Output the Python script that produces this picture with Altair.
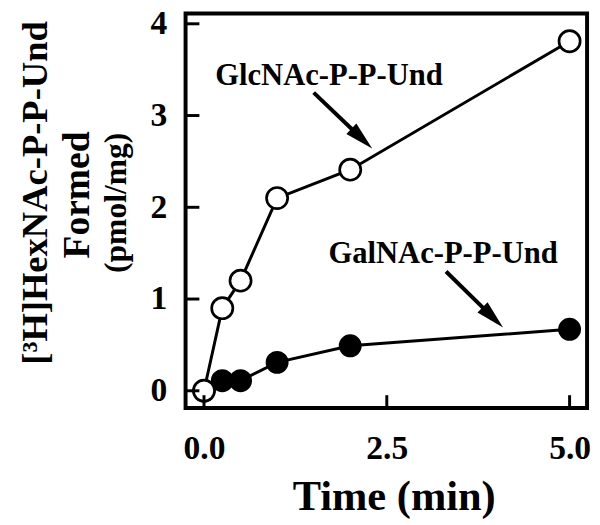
import math
import altair as alt
import pandas as pd

# ---- data ----
time_min = [0, 0.25, 0.5, 1, 2, 5]
glcnac = [0, 0.90, 1.20, 2.10, 2.41, 3.81]
galnac = [0, 0.11, 0.11, 0.31, 0.49, 0.67]

x_ticks = [0, 2.5, 5]
y_ticks = [0, 1, 2, 3, 4]

labels = ["GlcNAc-P-P-Und", "GalNAc-P-P-Und"]
label_x = [1.71, 3.27]
label_y = [3.33, 1.39]
arrow_x0 = [1.50, 3.31]
arrow_y0 = [3.25, 1.30]
arrow_x1 = [2.30, 4.09]
arrow_y1 = [2.64, 0.69]

y_title_lines = ["[³H]HexNAc-P-P-Und", "Formed", "(pmol/mg)"]
y_title_sizes = [37, 38, 32]
y_title_px = [-140, -98, -60]
y_title_py = [182, 184, 192]

# ---- layout ----
W, H = 407, 400
FONT = "Liberation Serif"
XD = [-0.252, 5.239]
YD = [-0.188, 4.113]
xs = alt.Scale(domain=XD, nice=False, zero=False)
ys = alt.Scale(domain=YD, nice=False, zero=False)

x_axis = alt.Axis(values=x_ticks, format=".1f", title="Time (min)", labelPadding=24,
                  titleFontSize=43, titleY=103, titleX=211, titleBaseline="alphabetic")
y_axis = alt.Axis(values=y_ticks, format="d", title=None, labelPadding=19)


def X(f):
    return alt.X(f, type="quantitative", scale=xs, axis=x_axis)


def Y(f):
    return alt.Y(f, type="quantitative", scale=ys, axis=y_axis)


glc = pd.DataFrame({"t": time_min, "v": glcnac})
gal = pd.DataFrame({"t": time_min, "v": galnac})

gal_line = alt.Chart(gal).mark_line(color="black", strokeWidth=3).encode(x=X("t"), y=Y("v"))
glc_line = alt.Chart(glc).mark_line(color="black", strokeWidth=3).encode(x=X("t"), y=Y("v"))
gal_pts = alt.Chart(gal).mark_circle(size=430, fill="black", stroke="black",
                                     strokeWidth=2.5, opacity=1).encode(x=X("t"), y=Y("v"))
glc_pts = alt.Chart(glc).mark_circle(size=460, fill="white", stroke="black",
                                     strokeWidth=2.7, opacity=1).encode(x=X("t"), y=Y("v"))

# inward ticks
xt = alt.Chart(pd.DataFrame({"t": x_ticks})).mark_rule(color="black", strokeWidth=3).encode(
    x=X("t"), y=alt.value(H), y2=alt.value(H - 13))
yt = alt.Chart(pd.DataFrame({"v": y_ticks})).mark_rule(color="black", strokeWidth=3).encode(
    y=Y("v"), x=alt.value(0), x2=alt.value(14))

# annotations
ann = alt.Chart(pd.DataFrame({"t": label_x, "v": label_y, "lab": labels})).mark_text(
    font=FONT, fontSize=31, fontWeight="bold", color="black", align="center",
    baseline="alphabetic").encode(x=X("t"), y=Y("v"), text="lab:N")

rows = []
for a, b, c, d in zip(arrow_x0, arrow_y0, arrow_x1, arrow_y1):
    dx = (c - a) * W / (XD[1] - XD[0])
    dy = -(d - b) * H / (YD[1] - YD[0])
    ang = math.degrees(math.atan2(dy, dx)) + 90
    rows.append({"t": a, "v": b, "t2": a + 0.7 * (c - a), "v2": b + 0.7 * (d - b),
                 "tx": c, "ty": d, "ang": ang})
arr = pd.DataFrame(rows)
shaft = alt.Chart(arr).mark_rule(color="black", strokeWidth=4).encode(
    x=X("t"), y=Y("v"), x2="t2:Q", y2="v2:Q")
head = alt.Chart(arr).mark_point(shape="M0,0L0.5,2L-0.5,2Z", filled=True, fill="black",
                                 opacity=1, size=850, strokeWidth=0).encode(
    x=X("tx"), y=Y("ty"), angle=alt.Angle("ang:Q", scale=None))

# y title lines
ytitle_layers = []
for txt, fs, px, py in zip(y_title_lines, y_title_sizes, y_title_px, y_title_py):
    ytitle_layers.append(
        alt.Chart(pd.DataFrame({"lab": [txt]})).mark_text(
            font=FONT, fontSize=fs, fontWeight="bold", color="black", angle=270,
            align="center", baseline="alphabetic").encode(
            x=alt.value(px), y=alt.value(py), text="lab:N"))

chart = alt.layer(gal_line, glc_line, gal_pts, glc_pts, xt, yt, shaft, head, ann,
                  *ytitle_layers).properties(
    width=W, height=H,
    autosize=alt.AutoSizeParams(type="none"),
    padding={"left": 180, "top": 2, "right": 5, "bottom": 110},
).configure_view(stroke="black", strokeWidth=4).configure_axis(
    domain=False, ticks=False, grid=False, labelFont=FONT, labelFontSize=34,
    labelFontWeight="bold", labelColor="black", titleFont=FONT, titleFontWeight="bold",
    titleColor="black")

chart.save("out.html", embed_options={"renderer": "svg", "actions": False})
